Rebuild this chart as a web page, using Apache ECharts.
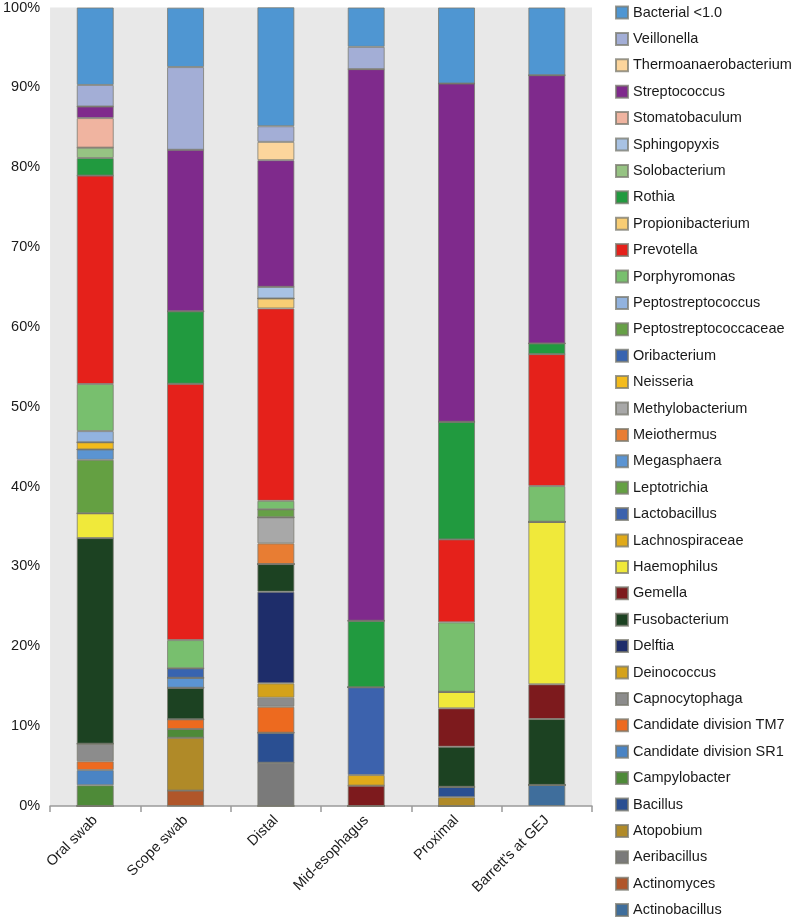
<!DOCTYPE html>
<html>
<head>
<meta charset="utf-8">
<script src="https://cdn.jsdelivr.net/npm/echarts@6/dist/echarts.min.js"></script>
<style>
  html, body { margin: 0; padding: 0; background: #ffffff; }
  #chart { width: 795px; height: 923px; }
</style>
</head>
<body>
<div id="chart"></div>
<script>
// Sample sites (x-axis categories)
const categories = ['Oral swab', 'Scope swab', 'Distal', 'Mid-esophagus', 'Proximal', "Barrett's at GEJ"];

// Taxa, listed bottom of the stack first (legend shows them in reverse)
const taxa = [
  'Actinobacillus', 'Actinomyces', 'Aeribacillus', 'Atopobium', 'Bacillus', 'Campylobacter',
  'Candidate division SR1', 'Candidate division TM7', 'Capnocytophaga', 'Deinococcus', 'Delftia',
  'Fusobacterium', 'Gemella', 'Haemophilus', 'Lachnospiraceae', 'Lactobacillus', 'Leptotrichia',
  'Megasphaera', 'Meiothermus', 'Methylobacterium', 'Neisseria', 'Oribacterium',
  'Peptostreptococcaceae', 'Peptostreptococcus', 'Porphyromonas', 'Prevotella', 'Propionibacterium',
  'Rothia', 'Solobacterium', 'Sphingopyxis', 'Stomatobaculum', 'Streptococcus',
  'Thermoanaerobacterium', 'Veillonella', 'Bacterial <1.0'
];

const taxaColors = [
  '#3f6e9c', '#b0562a', '#7a7a7a', '#b08a28', '#2a4f92', '#4e8a38',
  '#4a84c4', '#ed6a1f', '#8c8c8c', '#d4a21a', '#1e2d6a',
  '#1c4222', '#7d1a1d', '#f0e93a', '#e0aa1a', '#3c62ad', '#64a042',
  '#5b94d2', '#e87d33', '#a8a8a8', '#f3bb1c', '#3864b0',
  '#66a046', '#92b3df', '#78bf6e', '#e5211b', '#f8cd74',
  '#219a3f', '#96c383', '#a8c2e3', '#f0b4a0', '#7f2a8c',
  '#fcd59c', '#a3aed6', '#4f96d2'
];

// Relative abundance (%) per site, only non-zero taxa
const oralSwab = {
  'Campylobacter': 2.6, 'Candidate division SR1': 1.9, 'Candidate division TM7': 1.1,
  'Capnocytophaga': 2.2, 'Fusobacterium': 25.75, 'Haemophilus': 3.1, 'Leptotrichia': 6.7,
  'Megasphaera': 1.3, 'Neisseria': 0.9, 'Peptostreptococcus': 1.4, 'Porphyromonas': 5.9,
  'Prevotella': 26.1, 'Rothia': 2.2, 'Solobacterium': 1.3, 'Stomatobaculum': 3.7,
  'Streptococcus': 1.45, 'Veillonella': 2.7, 'Bacterial <1.0': 9.7
};
const scopeSwab = {
  'Actinomyces': 1.93, 'Atopobium': 6.62, 'Campylobacter': 1.09, 'Candidate division TM7': 1.21,
  'Fusobacterium': 3.96, 'Megasphaera': 1.25, 'Oribacterium': 1.18, 'Porphyromonas': 3.54,
  'Prevotella': 32.1, 'Rothia': 9.07, 'Streptococcus': 20.23, 'Veillonella': 10.36,
  'Bacterial <1.0': 7.44
};
const distal = {
  'Aeribacillus': 5.42, 'Bacillus': 3.76, 'Candidate division TM7': 3.25, 'Capnocytophaga': 1.13,
  'Deinococcus': 1.8, 'Delftia': 11.47, 'Fusobacterium': 3.47, 'Meiothermus': 2.59,
  'Methylobacterium': 3.26, 'Peptostreptococcaceae': 1.0, 'Porphyromonas': 1.07,
  'Prevotella': 24.09, 'Propionibacterium': 1.25, 'Sphingopyxis': 1.46, 'Streptococcus': 15.86,
  'Thermoanaerobacterium': 2.29, 'Veillonella': 1.96, 'Bacterial <1.0': 14.9
};
const midEsophagus = {
  'Gemella': 2.55, 'Lachnospiraceae': 1.33, 'Lactobacillus': 10.98, 'Rothia': 8.34,
  'Streptococcus': 69.08, 'Veillonella': 2.79, 'Bacterial <1.0': 4.93
};
const proximal = {
  'Atopobium': 1.11, 'Bacillus': 1.29, 'Fusobacterium': 5.02, 'Gemella': 4.81, 'Haemophilus': 2.08,
  'Porphyromonas': 8.69, 'Prevotella': 10.39, 'Rothia': 14.73, 'Streptococcus': 42.36,
  'Bacterial <1.0': 9.52
};
const barrettsGEJ = {
  'Actinobacillus': 2.64, 'Fusobacterium': 8.25, 'Gemella': 4.35, 'Haemophilus': 20.36,
  'Porphyromonas': 4.47, 'Prevotella': 16.52, 'Rothia': 1.34, 'Streptococcus': 33.59,
  'Bacterial <1.0': 8.48
};

const yTicks = [0, 10, 20, 30, 40, 50, 60, 70, 80, 90, 100];

const sites = [oralSwab, scopeSwab, distal, midEsophagus, proximal, barrettsGEJ];

const series = taxa.map((name, i) => ({
  name: name,
  type: 'bar',
  stack: 'total',
  barWidth: 37,
  itemStyle: {
    color: taxaColors[i],
    borderColor: 'rgba(120,120,110,0.75)',
    borderWidth: 1
  },
  emphasis: { disabled: true },
  data: sites.map(s => (s[name] !== undefined ? s[name] : 0))
}));

const font = 'Liberation Sans, Arial, Helvetica, sans-serif';

const chart = echarts.init(document.getElementById('chart'), null, { renderer: 'canvas' });
chart.setOption({
  animation: false,
  backgroundColor: '#ffffff',
  textStyle: { fontFamily: font },
  grid: {
    left: 50, right: 203, top: 7, bottom: 117,
    show: true, backgroundColor: '#e8e8e8', borderWidth: 0
  },
  legend: {
    orient: 'vertical',
    left: 615,
    top: 5,
    padding: 0,
    itemWidth: 12,
    itemHeight: 12,
    itemGap: 11.4,
    icon: 'rect',
    data: taxa.slice().reverse(),
    textStyle: { fontFamily: font, fontSize: 14.5, color: '#1a1a1a', lineHeight: 14 }
  },
  xAxis: {
    type: 'category',
    data: categories,
    axisLine: { show: true, lineStyle: { color: '#9a9a9a', width: 1.5 } },
    axisTick: { show: true, length: 6, lineStyle: { color: '#9a9a9a', width: 1.5 } },
    axisLabel: { rotate: 45, margin: 12, fontSize: 14.5, color: '#1a1a1a', fontFamily: font }
  },
  yAxis: {
    type: 'value',
    min: yTicks[0],
    max: yTicks[yTicks.length - 1],
    interval: 10,
    axisLine: { show: false },
    axisTick: { show: false },
    splitLine: { show: false },
    axisLabel: { formatter: '{value}%', fontSize: 14.5, color: '#1a1a1a', margin: 10, fontFamily: font }
  },
  series: series
});
</script>
</body>
</html>
